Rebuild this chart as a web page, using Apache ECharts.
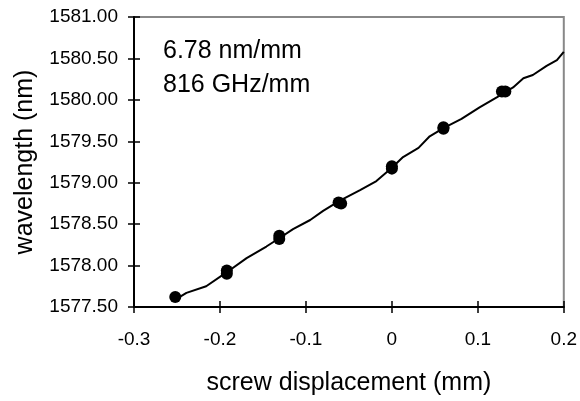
<!DOCTYPE html>
<html>
<head>
<meta charset="utf-8">
<script src="https://cdn.jsdelivr.net/npm/echarts@6/dist/echarts.min.js"></script>
<style>
html,body{margin:0;padding:0;background:#fff;}
#c{width:580px;height:401px;}
</style>
</head>
<body>
<div id="c"></div>
<script>
var lineX = [-0.25, -0.239, -0.216, -0.192, -0.169, -0.146, -0.131, -0.115, -0.095, -0.080, -0.061, -0.037, -0.018, 0.0, 0.013, 0.031, 0.044, 0.06, 0.081, 0.102, 0.122, 0.13, 0.141, 0.153, 0.164, 0.180, 0.192, 0.2];
var lineY = [1577.60, 1577.67, 1577.75, 1577.92, 1578.09, 1578.23, 1578.33, 1578.44, 1578.55, 1578.66, 1578.78, 1578.91, 1579.02, 1579.18, 1579.31, 1579.42, 1579.56, 1579.66, 1579.77, 1579.91, 1580.03, 1580.08, 1580.15, 1580.26, 1580.30, 1580.41, 1580.48, 1580.58];
// Measured points
var ptX = [-0.252, -0.192, -0.192, -0.131, -0.131, -0.062, -0.059, 0.0, 0.0, 0.06, 0.06, 0.128, 0.132];
var ptY = [1577.62, 1577.94, 1577.90, 1578.36, 1578.32, 1578.76, 1578.75, 1579.20, 1579.17, 1579.67, 1579.65, 1580.10, 1580.10];
var annot = ["6.78 nm/mm", "816 GHz/mm"];
var xTitle = "screw displacement (mm)";
var yTitle = "wavelength (nm)";

var FONT = '"Liberation Sans", Arial, sans-serif';
var chart = echarts.init(document.getElementById('c'), null, {renderer:'canvas'});

var lineData = lineX.map(function(x,i){return [x, lineY[i]];});
var ptData = ptX.map(function(x,i){return [x, ptY[i]];});

var xBase = {type:'value', min:-0.3, max:0.2, interval:0.1, position:'bottom', splitLine:{show:false}};
var yBase = {type:'value', min:1577.5, max:1581, interval:0.5, position:'left', splitLine:{show:false}};

chart.setOption({
  animation:false,
  backgroundColor:'#fff',
  grid:{left:134, right:15, top:17, bottom:92, show:true, borderColor:'#888', borderWidth:2, backgroundColor:'transparent'},
  xAxis:[
    Object.assign({}, xBase, {
      name:xTitle, nameLocation:'middle', nameGap:64,
      nameTextStyle:{fontFamily:FONT, fontSize:25, color:'#000'},
      axisLine:{show:true, onZero:false, lineStyle:{color:'#000', width:2}},
      axisTick:{show:true, inside:false, length:6, lineStyle:{color:'#000', width:1.5}},
      axisLabel:{show:true, margin:23, fontFamily:FONT, fontSize:19, color:'#000'}
    }),
    Object.assign({}, xBase, {
      axisLine:{show:false, onZero:false},
      axisTick:{show:true, inside:true, length:6, lineStyle:{color:'#000', width:1.5}},
      axisLabel:{show:false}
    })
  ],
  yAxis:[
    Object.assign({}, yBase, {
      name:yTitle, nameLocation:'middle', nameGap:96,
      nameTextStyle:{fontFamily:FONT, fontSize:25, color:'#000'},
      axisLine:{show:true, onZero:false, lineStyle:{color:'#000', width:2}},
      axisTick:{show:true, inside:false, length:6, lineStyle:{color:'#000', width:1.5}},
      axisLabel:{show:true, margin:16, fontFamily:FONT, fontSize:19, color:'#000',
        formatter:function(v){return v.toFixed(2);}}
    }),
    Object.assign({}, yBase, {
      axisLine:{show:false, onZero:false},
      axisTick:{show:true, inside:true, length:6, lineStyle:{color:'#000', width:1.5}},
      axisLabel:{show:false}
    })
  ],
  graphic:[
    {type:'text', left:163, top:39, style:{text:annot[0], font:'25px "Liberation Sans", Arial, sans-serif', fill:'#000'}},
    {type:'text', left:163, top:73, style:{text:annot[1], font:'25px "Liberation Sans", Arial, sans-serif', fill:'#000'}}
  ],
  series:[
    {type:'line', xAxisIndex:0, yAxisIndex:0, data:lineData, showSymbol:false, symbol:'none',
     lineStyle:{color:'#000', width:2}, z:2},
    {type:'scatter', xAxisIndex:0, yAxisIndex:0, data:ptData, symbol:'circle', symbolSize:12,
     itemStyle:{color:'#000', opacity:1}, z:3}
  ]
});
</script>
</body>
</html>
